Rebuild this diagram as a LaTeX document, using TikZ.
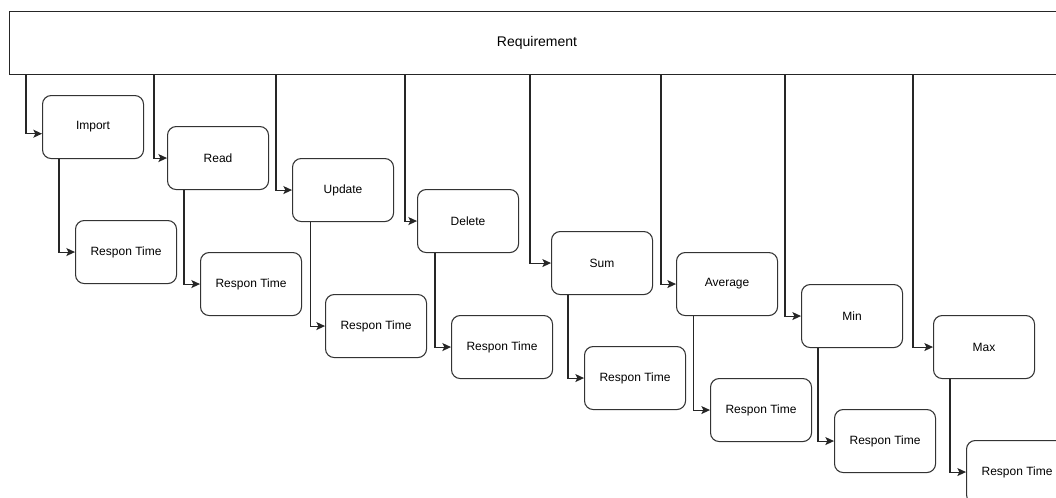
\documentclass[tikz,border=0pt]{standalone}
\usepackage{fontspec}
\setmainfont{Liberation Sans}
\usetikzlibrary{arrows.meta}

\begin{document}
\begin{tikzpicture}[
  x=0.75pt, y=-0.75pt,
  reqbox/.style={rectangle, draw=black!85, line width=0.8pt, anchor=north west,
              minimum width=791.25pt, minimum height=47.25pt, inner sep=0pt,
              font=\fontsize{10.5}{12}\selectfont},
  box/.style={rectangle, draw=black!80, rounded corners=6.5pt, line width=0.8pt,
              minimum width=75.75pt, minimum height=47.25pt, inner sep=0pt,
              anchor=north west, font=\fontsize{9}{11}\selectfont},
  arr/.style={-{Stealth[length=6.5pt, width=6pt, inset=1.5pt]}, line width=0.8pt, black!85},
]
  \useasboundingbox (0,0) rectangle (1056,497);
  \clip (0,0) rectangle (1056,497);

  \node[reqbox] (req) at (9,11) {Requirement};

  \node[box] (import)  at (42,95)  {Import};
  \node[box] (read)    at (167,126) {Read};
  \node[box] (update)  at (292,158) {Update};
  \node[box] (delete)  at (417,189) {Delete};
  \node[box] (sum)     at (551,231) {Sum};
  \node[box] (average) at (676,252) {Average};
  \node[box] (min)     at (801,284) {Min};
  \node[box] (max)     at (933,315) {Max};

  \node[box] (rt-import)  at (75,220)  {Respon Time};
  \node[box] (rt-read)    at (200,252) {Respon Time};
  \node[box] (rt-update)  at (325,294) {Respon Time};
  \node[box] (rt-delete)  at (451,315) {Respon Time};
  \node[box] (rt-sum)     at (584,346) {Respon Time};
  \node[box] (rt-average) at (710,378) {Respon Time};
  \node[box] (rt-min)     at (834,409) {Respon Time};
  \node[box] (rt-max)     at (966,440) {Respon Time};

  % taps on the bottom edge of the requirement bar
  \coordinate (tap-import)  at (26,74);
  \coordinate (tap-read)    at (154,74);
  \coordinate (tap-update)  at (276,74);
  \coordinate (tap-delete)  at (405,74);
  \coordinate (tap-sum)     at (530,74);
  \coordinate (tap-average) at (661,74);
  \coordinate (tap-min)     at (785,74);
  \coordinate (tap-max)     at (913,74);

  \draw[arr] (tap-import)  |- ([yshift=-5pt]import.west);
  \draw[arr] (tap-read)    |- (read);
  \draw[arr] (tap-update)  |- (update);
  \draw[arr] (tap-delete)  |- (delete);
  \draw[arr] (tap-sum)     |- (sum);
  \draw[arr] (tap-average) |- (average);
  \draw[arr] (tap-min)     |- (min);
  \draw[arr] (tap-max)     |- (max);

  \draw[arr] ([xshift=12.75pt]import.south west)  |- (rt-import);
  \draw[arr] ([xshift=12.75pt]read.south west)    |- (rt-read);
  \draw[arr] ([xshift=14pt]update.south west)     |- (rt-update);
  \draw[arr] ([xshift=13.5pt]delete.south west)   |- (rt-delete);
  \draw[arr] ([xshift=12.75pt]sum.south west)     |- (rt-sum);
  \draw[arr] ([xshift=13.25pt]average.south west) |- (rt-average);
  \draw[arr] ([xshift=12.75pt]min.south west)     |- (rt-min);
  \draw[arr] ([xshift=12.75pt]max.south west)     |- (rt-max);
\end{tikzpicture}
\end{document}
